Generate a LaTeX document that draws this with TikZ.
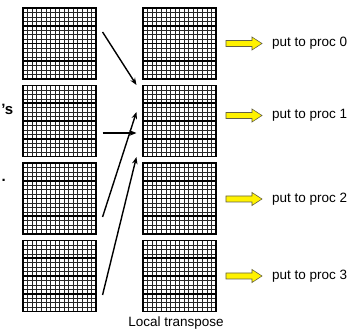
\documentclass[tikz,border=0pt]{standalone}
\usepackage{fontspec}
\setmainfont{Liberation Sans}
\usetikzlibrary{calc,arrows.meta}
\tikzset{
  block/.style={draw, line width=1.1pt, minimum width=73pt, minimum height=71pt, inner sep=0pt},
  gridline/.style={line width=0.55pt, black!85},
  bandline/.style={line width=1.8pt},
  moveto/.style={line width=1.4pt, -{Stealth[length=7pt,width=5.5pt]}},
  putlabel/.style={anchor=west, inner sep=0pt, font=\fontsize{13.5}{16}\selectfont}
}
\newcommand{\gridblock}[3]
{   \foreach \i in {1,...,15}
    {   \draw[gridline] ({#2+\i*73/16},#3) -- ++(0,71);
        \draw[gridline] (#2,{#3+\i*71/16}) -- ++(73,0);
    }
    \foreach \j in {1,2,3} \draw[bandline] (#2,{#3+\j*71/4}) -- ++(73,0);
    \node[block] (#1) at ({#2+36.5},{#3+35.5}) {};
}
\newcommand{\putarrow}[3]
{   \draw[fill=yellow, draw=black!70!yellow, line width=0.6pt] (#2,{#3-3}) -- ++(26,0) -- ++(0,-3.5)
      -- ({#2+36},#3) -- ({#2+26},{#3+6.5}) -- ++(0,-3.5) -- (#2,{#3+3}) -- cycle;
    \coordinate (#1) at ({#2+36},#3);
}

\begin{document}
\begin{tikzpicture}[x=1pt,y=-1pt]
 \useasboundingbox (0,0) rectangle (360,331);

 \gridblock{l1}{23}{8} \gridblock{l2}{23}{85.5} \gridblock{l3}{23}{163} \gridblock{l4}{23}{240.5}
 \gridblock{r1}{143}{8} \gridblock{r2}{143}{85.5} \gridblock{r3}{143}{163} \gridblock{r4}{143}{240.5}

 \draw[moveto] ($(l1.east)+(6,-11.5)$) -- ($(r2.north west)+(-6,0)$);
 \draw[moveto] ($(l2.east)+(6,12)$) -- ($(r2.west)+(-6,12)$);
 \draw[moveto] ($(l3.east)+(6,18.5)$) -- ($(r2.west)+(-6,-9)$);
 \draw[moveto] ($(l4.east)+(6,19)$) -- ($(r2.south west)+(-6,0)$);

 \putarrow{a0}{226}{43.5} \node[putlabel] (p0) at ($(a0)+(10,0)$) {put to proc 0};
 \putarrow{a1}{226}{115.5} \node[putlabel] (p1) at ($(a1)+(10,0)$) {put to proc 1};
 \putarrow{a2}{226}{199} \node[putlabel] (p2) at ($(a2)+(10,0)$) {put to proc 2};
 \putarrow{a3}{226}{276} \node[putlabel] (p3) at ($(a3)+(10,0)$) {put to proc 3};

 \node[anchor=base, inner sep=0pt, font=\fontsize{13.5}{16}\selectfont] (lt) at (176,327) {Local transpose};
 \node[anchor=base east, inner sep=0pt, font=\fontsize{15}{18}\selectfont\bfseries] (tail) at (13.5,114.5) {’s};
 \node[anchor=base east, inner sep=0pt, font=\fontsize{15}{18}\selectfont\bfseries] (stop) at (6,182) {.};

\end{tikzpicture}
\end{document}
